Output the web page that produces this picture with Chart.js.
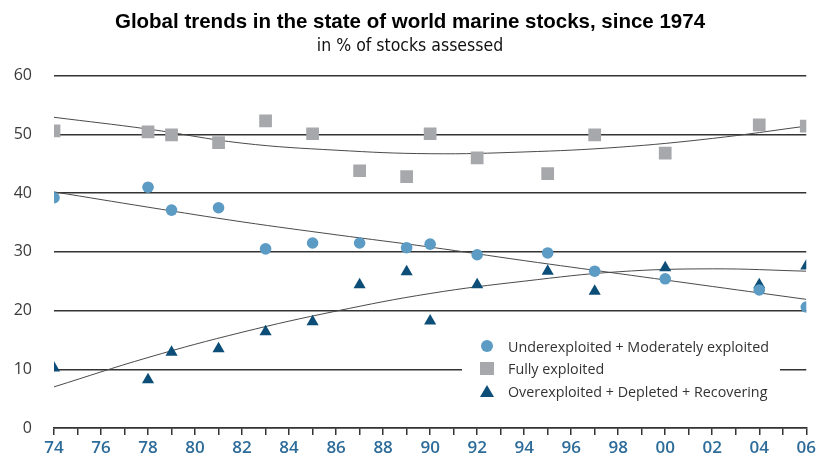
<!DOCTYPE html>
<html>
<head>
<meta charset="utf-8">
<script src="https://cdn.jsdelivr.net/npm/chart.js@4.4.0/dist/chart.umd.min.js"></script>
<style>
  html, body { margin: 0; padding: 0; background: #fff; }
  #wrap { width: 819px; height: 457px; }
</style>
</head>
<body>
<div id="wrap"><canvas id="chart" width="819" height="457"></canvas></div>
<script>
// observed years and shares (% of stocks assessed)
const years = [1974, 1978, 1979, 1981, 1983, 1985, 1987, 1989, 1990, 1992, 1995, 1997, 2000, 2004, 2006];
const underModerate = [39.2, 41.0, 37.1, 37.5, 30.5, 31.5, 31.5, 30.7, 31.3, 29.5, 29.8, 26.7, 25.4, 23.5, 20.6];
const fullyExploited = [50.6, 50.4, 49.9, 48.6, 52.3, 50.1, 43.8, 42.8, 50.1, 46.0, 43.3, 49.9, 46.8, 51.6, 51.4];
const overDepleted = [10.2, 8.2, 12.9, 13.5, 16.4, 18.1, 24.4, 26.6, 18.2, 24.4, 26.7, 23.3, 27.3, 24.4, 27.6];

// trend curves
const trendYears = [1974, 1978, 1982, 1986, 1990, 1994, 1998, 2002, 2006];
const underTrend = [40.2, 37.6, 35.1, 32.9, 30.8, 28.5, 26.3, 24.1, 21.9];
const fullyTrend = [52.9, 50.9, 48.5, 47.3, 46.7, 47.0, 47.8, 49.3, 51.4];
const overTrend = [7.0, 12.0, 16.3, 19.9, 22.9, 25.0, 26.6, 27.1, 26.7];

const seriesNames = ['Underexploited + Moderately exploited', 'Fully exploited', 'Overexploited + Depleted + Recovering'];
const yTicks = [0, 10, 20, 30, 40, 50, 60];

const COL_UNDER = '#5b9bc4';
const COL_FULLY = '#a7a8ab';
const COL_OVER = '#0d4e78';
const COL_TREND = '#4a4a4a';

const pts = (xs, ys) => xs.map((x, i) => ({ x: x, y: ys[i] }));

function trend(ys) {
  return {
    type: 'line',
    data: pts(trendYears, ys),
    borderColor: COL_TREND,
    borderWidth: 1,
    pointRadius: 0,
    tension: 0.4,
    fill: false,
    order: 2
  };
}

// legend box sitting inside the plot, like the original
const insideLegend = {
  id: 'insideLegend',
  afterDatasetsDraw(chart) {
    const ctx = chart.ctx;
    ctx.save();
    ctx.fillStyle = '#fff';
    ctx.fillRect(462, 336, 318, 68);

    const mx = 487, tx = 508;
    const rows = [347, 369, 392];

    ctx.fillStyle = COL_UNDER;
    ctx.beginPath();
    ctx.arc(mx, rows[0] - 1, 6, 0, Math.PI * 2);
    ctx.fill();

    ctx.fillStyle = COL_FULLY;
    ctx.fillRect(mx - 7, rows[1] - 7, 14, 13);

    ctx.fillStyle = COL_OVER;
    ctx.beginPath();
    ctx.moveTo(mx, rows[2] - 7);
    ctx.lineTo(mx + 7, rows[2] + 5);
    ctx.lineTo(mx - 7, rows[2] + 5);
    ctx.closePath();
    ctx.fill();

    ctx.fillStyle = '#333';
    ctx.font = '14.3px "Open Sans", sans-serif';
    ctx.textBaseline = 'middle';
    seriesNames.forEach((name, i) => ctx.fillText(name, tx, rows[i] + 1));
    ctx.restore();
  }
};

new Chart(document.getElementById('chart'), {
  type: 'scatter',
  plugins: [insideLegend],
  data: {
    datasets: [
      {
        label: seriesNames[0],
        data: pts(years, underModerate),
        backgroundColor: COL_UNDER,
        borderWidth: 0,
        pointStyle: 'circle',
        pointRadius: 5.8,
        order: 1
      },
      {
        label: seriesNames[1],
        data: pts(years, fullyExploited),
        backgroundColor: COL_FULLY,
        borderWidth: 0,
        pointStyle: 'rect',
        pointRadius: 9,
        order: 1
      },
      {
        label: seriesNames[2],
        data: pts(years, overDepleted),
        backgroundColor: COL_OVER,
        borderWidth: 0,
        pointStyle: 'triangle',
        pointRadius: 7,
        order: 1
      },
      trend(underTrend),
      trend(fullyTrend),
      trend(overTrend)
    ]
  },
  options: {
    responsive: false,
    animation: false,
    layout: { padding: { left: 10, right: 9, top: 0, bottom: 0 } },
    plugins: {
      legend: { display: false },
      tooltip: { enabled: false },
      title: {
        display: true,
        text: 'Global trends in the state of world marine stocks, since 1974',
        color: '#000',
        font: { family: '"Liberation Sans", Arial, sans-serif', size: 20.5, weight: 'bold' },
        padding: { top: 10, bottom: 0 }
      },
      subtitle: {
        display: true,
        text: 'in % of stocks assessed',
        color: '#111',
        font: { family: '"DejaVu Sans Condensed", "Liberation Sans", sans-serif', size: 17.5 },
        padding: { top: 1, bottom: 19 }
      }
    },
    scales: {
      x: {
        type: 'linear',
        min: 1974,
        max: 2006,
        afterFit: (axis) => { axis.height = 29; },
        grid: {
          display: true,
          drawOnChartArea: false,
          drawTicks: true,
          tickLength: 7,
          color: '#333',
          lineWidth: 1.5
        },
        border: { display: true, color: '#333', width: 1.5 },
        ticks: {
          stepSize: 1,
          autoSkip: false,
          maxRotation: 0,
          padding: 3,
          color: '#2d6b99',
          font: { family: '"Open Sans", sans-serif', size: 17, weight: '600' },
          callback: (v) => (v % 2 === 0 ? String(v).slice(2) : '')
        }
      },
      y: {
        min: 0,
        max: 60,
        afterBuildTicks: (axis) => { axis.ticks = yTicks.map((v) => ({ value: v })); },
        afterFit: (axis) => { axis.width = 44; axis.paddingBottom = 0; },
        grid: { color: '#333', lineWidth: 1.5, drawTicks: false },
        border: { display: false },
        ticks: {
          padding: 22,
          color: '#3a3a3a',
          font: { family: '"Open Sans", sans-serif', size: 16 }
        }
      }
    }
  }
});
</script>
</body>
</html>
